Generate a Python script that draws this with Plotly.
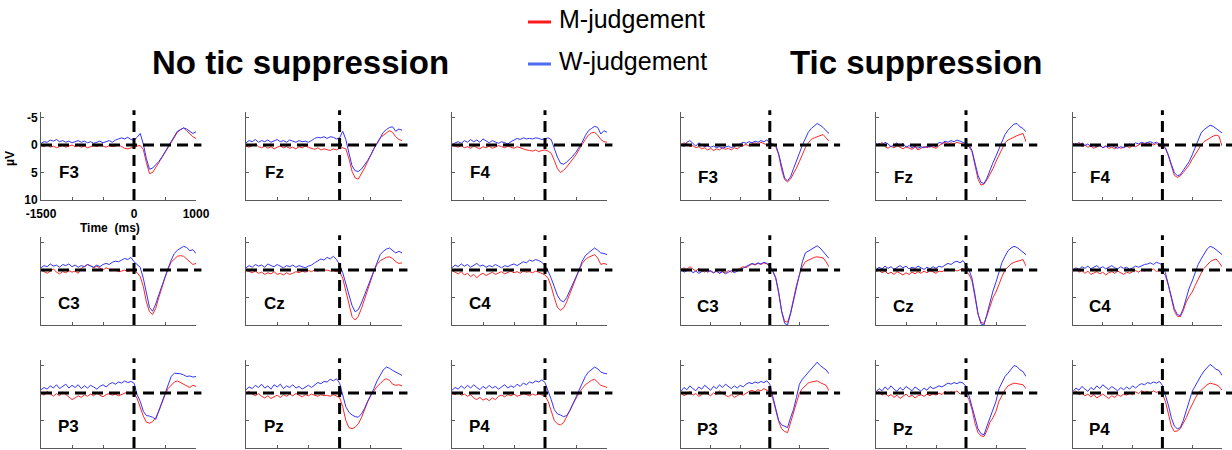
import plotly.graph_objects as go

# ---- data -------------------------------------------------------------
times = list(range(-1500, 1001, 50))  # ms, 51 samples
channels = ["F3", "Fz", "F4", "C3", "Cz", "C4", "P3", "Pz", "P4"]
tick_x = [-1500, -1000, -500, 0, 500, 1000]
tick_x_text = ["-1500", "", "", "0", "", "1000"]
tick_y = [-5, 0, 5, 10]
tick_y_text = ["-5", "0", "5", "10"]

# No tic suppression: M-judgement (m) and W-judgement (w), µV
free_F3_w = [-0.3,-0.6,-0.5,-0.9,-0.7,-1.0,-0.6,-0.8,-0.5,-0.7,-0.4,-0.6,-0.8,-0.5,-0.7,-0.4,-0.6,-0.3,-0.5,-0.7,-0.4,-0.6,-0.8,-0.5,-0.9,-1.1,
             -1.3,-1.1,-1.4,-1.0,-0.9, -1.4,-2.1,-0.2,2.5,4.4, 4.2,3.6,3.0,2.2,1.3, 0.4,-0.6,-1.6,-2.5,-2.8, -3.1,-2.9,-2.5,-2.1,-2.4]
free_F3_m = [0.1,0.3,0.0,0.4,0.2,0.5,0.3,0.1,0.4,0.2,0.0,0.3,0.1,0.4,0.2,0.5,0.3,0.1,0.3,0.0,0.2,0.4,0.1,0.3,0.2,0.0,
             0.3,0.6,0.7,0.5,0.4, 0.2,0.1,0.8,3.2,5.2, 5.0,4.0,3.2,2.3,1.4, 0.4,-0.5,-1.5,-2.3,-2.8, -3.1,-2.6,-2.0,-1.5,-1.2]
free_Fz_w = [-0.4,-0.8,-0.6,-1.0,-0.5,-0.8,-0.6,-0.9,-0.5,-0.8,-1.0,-0.6,-0.8,-0.5,-0.9,-0.7,-0.5,-0.8,-0.6,-0.7,-0.5,-0.8,-1.2,-1.4,-1.3,-1.5,
             -1.2,-1.5,-1.4,-1.1,-1.3, -2.5,-1.0,1.5,3.8,4.7, 4.8,4.4,3.7,2.8,1.8, 0.6,-0.2,-1.4,-2.3,-2.8, -3.2,-3.3,-2.5,-2.9,-2.7]
free_Fz_m = [0.2,0.4,0.1,-0.2,0.3,0.5,0.2,0.6,0.3,0.7,0.4,0.2,0.5,0.3,0.6,0.4,0.7,0.3,0.5,0.2,0.4,0.6,0.8,0.5,0.9,0.7,
             0.8,1.0,0.7,0.9,0.6, 0.5,0.7,2.5,4.8,6.0, 6.2,5.3,4.2,3.0,1.8, 0.6,-0.4,-1.3,-1.8,-2.2, -2.6,-2.3,-1.5,-1.0,-0.8]
free_F4_w = [0.0,-0.4,-0.6,-0.3,-0.8,-0.5,-1.0,-0.6,-0.9,-0.5,-1.1,-0.7,-0.4,-0.8,-0.5,-0.3,-0.6,-0.4,-0.2,-0.6,-0.9,-1.2,-1.0,-1.3,-1.1,-1.2,
             -1.1,-1.3,-1.2,-1.0,-1.1, -1.3,-1.0,0.5,2.2,3.3, 3.5,3.1,2.6,2.0,1.3, 0.5,-0.5,-1.7,-2.6,-3.0, -3.4,-3.2,-2.0,-2.6,-2.3]
free_F4_m = [0.0,0.2,0.4,0.1,0.5,0.3,0.6,0.2,0.4,0.7,0.3,0.5,0.2,0.6,0.4,0.1,0.3,0.5,0.2,0.4,0.6,0.3,0.5,0.8,0.9,1.0,
             1.1,0.9,1.2,1.0,0.9, 1.1,1.5,2.8,4.3,5.0, 4.6,4.0,3.3,2.5,1.8, 0.8,-0.2,-1.0,-1.8,-2.2, -2.3,-1.8,-1.0,-0.6,-0.5]
free_C3_w = [-0.4,-0.8,-0.6,-1.1,-0.7,-0.9,-0.5,-1.0,-0.8,-1.1,-0.6,-0.9,-0.5,-0.8,-0.6,-1.0,-0.7,-0.5,-0.9,-0.6,-1.0,-1.2,-1.0,-1.4,-1.6,-1.5,
             -1.8,-2.1,-1.9,-2.3,-1.5, -1.0,-0.5,1.5,4.5,6.8, 7.5,6.2,4.5,2.8,1.2, -0.3,-1.8,-3.0,-3.6,-4.0, -4.3,-4.1,-3.5,-3.7,-3.0]
free_C3_m = [0.0,0.3,0.6,0.2,-0.2,0.4,0.7,0.3,0.5,0.1,0.4,0.2,0.6,-0.3,-0.6,-1.0,-0.8,-0.4,-0.7,-0.3,0.0,-0.4,-0.2,0.1,0.0,0.3,
             0.2,0.0,0.3,0.1,0.2, 0.5,1.2,3.0,5.8,7.6, 8.1,7.0,5.0,3.0,1.4, -0.2,-1.4,-2.0,-2.5,-2.6, -2.5,-2.0,-1.5,-1.0,-1.2]
free_Cz_w = [-0.4,-0.8,-0.5,-1.0,-0.7,-0.9,-0.5,-1.1,-0.8,-0.6,-1.0,-0.7,-0.4,-0.8,-0.6,-0.9,-0.5,-0.8,-0.6,-0.4,-0.7,-0.9,-1.3,-1.6,-2.0,-1.8,
             -2.3,-2.0,-2.5,-1.9,-1.0, 0.5,2.5,4.5,6.5,7.6, 7.2,6.0,4.5,3.0,1.5, 0.0,-1.6,-2.8,-3.4,-3.8, -4.0,-3.6,-3.1,-3.4,-3.1]
free_Cz_m = [0.0,0.3,0.5,0.2,0.6,0.4,0.8,0.5,0.7,0.3,0.8,0.6,0.9,0.5,0.8,0.6,0.3,0.5,0.2,0.4,0.1,0.3,0.0,0.2,-0.1,0.1,
             0.0,0.2,0.1,0.3,0.3, 1.5,4.0,6.5,8.5,9.1, 8.4,7.0,5.3,3.5,1.8, 0.2,-1.0,-1.7,-2.0,-2.3, -2.4,-2.1,-1.5,-1.2,-1.3]
free_C4_w = [-0.4,-0.9,-0.6,-1.1,-0.7,-1.0,-0.5,-0.8,-1.2,-0.7,-0.9,-0.5,-0.8,-0.6,-1.0,-0.7,-0.4,-0.8,-0.6,-0.9,-1.1,-0.8,-1.2,-1.5,-1.3,-1.8,
             -1.6,-1.9,-1.7,-1.4,-0.8, 0.2,1.5,3.0,4.6,5.5, 5.8,5.0,3.8,2.5,1.2, 0.0,-1.6,-2.6,-3.1,-3.6, -4.0,-3.6,-3.1,-3.0,-2.8]
free_C4_m = [0.1,0.4,0.7,0.3,0.9,0.6,1.2,0.8,1.4,0.9,0.6,1.0,0.7,0.4,0.8,0.5,0.3,0.7,0.4,0.2,0.5,0.3,0.6,0.2,0.4,0.3,
             0.5,0.2,0.4,0.6,0.9, 1.5,3.0,5.0,6.8,7.3, 6.9,5.8,4.3,2.8,1.3, 0.0,-1.2,-1.9,-2.3,-2.6, -2.8,-2.2,-1.0,-1.2,-1.0]
free_P3_w = [-0.6,-1.0,-0.7,-1.3,-0.9,-1.5,-0.8,-1.2,-1.6,-0.9,-1.4,-1.0,-1.5,-0.8,-1.3,-0.9,-1.4,-1.1,-0.7,-1.2,-1.5,-1.1,-1.6,-1.9,-1.6,-2.0,
             -1.8,-2.2,-1.9,-2.1,-1.8, 0.3,1.5,3.3,4.1,4.2, 4.4,4.8,3.2,1.7,0.0, -1.8,-3.0,-3.6,-3.6,-3.5, -3.3,-3.0,-3.1,-2.9,-3.0]
free_P3_m = [0.0,0.4,-0.3,0.2,0.6,0.1,0.5,-0.2,0.3,0.8,1.2,0.9,0.5,0.8,0.3,0.6,0.2,0.5,0.0,0.4,0.7,0.3,0.1,0.4,0.2,0.5,
             0.3,0.0,-0.2,0.1,0.0, 1.0,2.5,4.2,5.3,5.5, 5.2,4.5,3.3,1.8,0.4, -0.8,-1.5,-2.0,-2.2,-1.9, -1.5,-1.2,-1.0,-1.4,-1.2]
free_Pz_w = [-0.6,-1.1,-0.8,-1.4,-1.0,-1.6,-0.9,-1.3,-0.7,-1.5,-1.1,-1.6,-0.8,-1.3,-1.0,-1.5,-0.9,-1.2,-0.7,-1.1,-1.4,-1.0,-1.5,-1.9,-1.7,-2.1,
             -2.0,-2.5,-2.2,-2.6,-1.8, 0.5,2.5,3.5,4.0,4.3, 4.4,3.8,2.8,1.5,0.4, -0.8,-2.2,-3.2,-4.2,-4.7, -4.5,-4.1,-3.8,-3.4,-3.2]
free_Pz_m = [0.0,-0.3,0.2,0.5,0.1,0.6,0.9,0.5,1.0,0.7,0.4,0.8,0.3,0.6,0.2,0.5,0.1,0.4,0.7,0.3,0.5,0.2,0.4,0.6,0.3,0.5,
             0.4,0.6,0.3,0.5,0.8, 2.5,5.0,6.3,6.5,6.2, 5.6,4.5,3.0,1.6,0.5, -0.4,-1.2,-1.7,-2.3,-2.6, -2.3,-1.6,-1.4,-1.5,-1.3]
free_P4_w = [-0.5,-1.0,-0.7,-1.3,-0.8,-1.4,-0.9,-1.5,-1.0,-0.6,-1.2,-0.8,-1.4,-0.9,-1.2,-0.7,-1.1,-1.5,-0.9,-1.3,-1.0,-1.6,-1.2,-1.8,-1.5,-2.0,
             -1.8,-2.2,-2.0,-2.4,-1.9, -0.5,1.2,3.0,3.8,4.0, 4.3,4.1,3.2,2.0,0.8, -0.5,-1.9,-3.0,-3.8,-4.3, -4.7,-4.4,-3.8,-3.6,-3.5]
free_P4_m = [0.0,0.3,-0.1,0.4,0.2,0.6,0.3,0.9,1.2,0.8,1.3,1.0,1.4,0.9,1.2,0.6,0.4,0.7,0.3,0.5,0.2,0.6,0.4,0.1,0.3,0.5,
             0.2,0.4,0.1,0.3,0.6, 1.5,3.5,5.0,5.6,5.8, 5.4,4.4,3.2,2.0,0.9, 0.0,-0.8,-1.5,-1.9,-2.3, -2.5,-2.0,-1.4,-1.2,-1.0]

# Tic suppression
supp_F3_w = [-0.2,0.3,-0.5,-0.8,-0.3,0.2,-0.4,0.0,0.3,0.1,0.4,0.2,0.5,0.3,0.6,0.4,0.2,0.5,0.3,0.1,-0.2,-0.5,-0.3,-0.6,-0.4,-0.7,
             -0.5,-0.8,-0.6,-0.9,-0.4, -0.2,0.0,1.6,4.0,6.0, 6.5,5.8,4.3,3.0,1.5, 0.0,-1.2,-2.3,-3.0,-3.5, -3.9,-3.6,-3.2,-2.6,-2.1]
supp_F3_m = [0.0,-0.4,-0.2,0.3,0.1,0.5,0.3,0.7,0.5,0.9,0.6,1.0,0.7,0.9,0.5,0.8,0.6,0.9,0.5,0.7,0.3,0.1,-0.1,0.2,-0.2,-0.4,
             -0.1,-0.5,-0.3,0.0,0.2, 0.0,0.3,1.8,4.5,6.3, 6.7,6.2,5.3,4.2,3.0, 1.7,0.5,-0.4,-1.0,-1.3, -1.5,-1.7,-1.9,-1.3,-0.7]
supp_Fz_w = [0.2,-0.3,0.1,-0.5,-0.2,0.3,0.0,-0.4,0.2,-0.3,0.4,0.1,0.5,0.2,0.6,0.3,0.5,0.2,0.4,0.0,0.3,-0.5,-0.3,-0.7,-0.5,-0.8,
             -0.6,-0.9,-0.7,-0.5,-0.3, 0.0,1.0,3.0,5.5,6.8, 7.0,6.0,4.4,3.2,2.0, 0.8,-0.5,-1.9,-2.7,-3.3, -3.8,-3.9,-3.3,-3.0,-2.4]
supp_Fz_m = [-0.3,0.2,-0.5,0.3,0.6,0.2,0.5,0.1,0.4,0.7,0.3,0.6,0.8,0.4,0.9,0.6,0.3,0.5,0.2,0.4,0.6,0.1,-0.2,-0.5,-0.1,-0.4,
             -0.2,-0.5,-0.3,-0.1,0.2, 0.3,1.2,3.5,6.2,7.3, 7.1,6.3,5.3,4.3,3.0, 1.8,0.6,-0.4,-0.9,-1.2, -1.5,-1.7,-1.9,-2.1,-0.6]
supp_F4_w = [0.0,-0.3,0.2,-0.4,0.1,-0.2,0.3,0.0,0.4,-0.1,0.5,0.2,0.3,0.0,0.4,0.6,0.3,0.5,0.2,-0.2,0.1,-0.4,-0.2,-0.5,-0.3,-0.4,
             -0.6,-0.3,-0.5,-0.2,0.0, 0.5,1.8,3.5,5.0,5.6, 5.4,4.6,3.8,3.0,1.8, 0.4,-1.0,-2.2,-2.8,-3.2, -3.6,-3.4,-3.0,-2.7,-2.2]
supp_F4_m = [-0.3,0.1,-0.5,0.3,0.0,0.4,0.2,0.6,0.3,0.1,0.5,0.2,0.6,0.4,0.7,0.3,0.6,0.4,0.2,0.5,0.1,0.3,0.0,-0.3,-0.1,-0.4,
             -0.2,0.0,-0.3,0.2,0.3, 0.6,2.0,4.0,5.5,5.9, 5.6,5.0,4.4,3.6,2.6, 1.7,0.8,0.0,-0.6,-1.0, -1.3,-1.6,-1.8,-1.6,0.2]
supp_C3_w = [-0.3,0.4,0.1,-0.2,0.5,0.2,0.6,0.3,0.0,0.4,0.1,0.5,0.2,0.6,0.3,0.7,0.4,0.1,0.5,0.2,-0.1,-0.4,-0.7,-1.0,-1.2,-1.0,
             -1.3,-1.1,-1.4,-1.2,-0.8, 0.2,1.4,4.0,7.5,9.7, 10.0,8.0,5.5,3.0,0.6, -1.5,-3.1,-3.4,-3.7,-4.0, -4.4,-4.0,-3.4,-2.8,-2.1]
supp_C3_m = [0.0,-0.4,-0.1,-0.6,-0.2,0.2,-0.3,0.1,0.4,0.0,0.3,0.5,0.2,0.6,0.3,0.5,0.1,0.4,0.2,0.0,-0.3,-0.6,-0.4,-0.8,-1.1,-0.9,
             -1.2,-1.0,-1.3,-1.1,-0.6, 0.2,1.5,4.2,7.5,9.3, 9.5,7.8,5.0,2.8,0.9, -0.6,-1.5,-1.8,-2.1,-2.3, -2.4,-2.3,-2.2,-1.5,-0.6]
supp_Cz_w = [0.0,-0.5,-0.2,-0.7,-0.3,-0.6,-0.1,-0.5,-0.8,-0.4,-0.7,-0.2,-0.5,-0.3,-0.7,-0.4,-0.1,-0.5,-0.2,-0.6,-0.3,-0.7,-0.5,-0.9,-1.2,-1.0,
             -1.4,-1.6,-1.3,-1.7,-1.0, 0.0,1.5,4.5,8.0,9.8, 10.0,8.0,5.8,3.8,2.2, 0.3,-1.4,-2.5,-3.5,-4.0, -4.3,-4.1,-3.7,-3.3,-2.8]
supp_Cz_m = [0.3,0.0,0.5,0.2,0.7,0.4,0.8,0.3,0.6,0.9,0.5,0.8,0.4,0.7,0.3,0.6,0.2,0.5,0.1,0.4,0.6,0.2,0.3,0.0,-0.2,0.1,
             -0.1,0.2,0.0,-0.3,0.3, 0.8,2.0,4.8,8.0,9.5, 9.7,8.3,6.5,5.0,4.0, 2.5,1.2,0.0,-0.6,-1.1, -1.4,-1.6,-1.8,-1.9,-0.7]
supp_C4_w = [0.0,-0.4,-0.1,-0.6,-0.3,-0.7,-0.2,-0.5,-0.8,-0.3,-0.6,-0.2,-0.5,-0.8,-0.4,-0.2,-0.6,-0.3,-0.5,-0.1,-0.4,-0.7,-0.5,-0.8,-1.0,-1.1,
             -1.3,-1.0,-1.4,-1.2,-0.9, 0.5,2.5,5.0,7.0,8.1, 8.3,7.0,5.0,3.3,2.0, 0.5,-1.0,-2.0,-3.0,-3.8, -4.3,-4.1,-3.7,-3.2,-2.8]
supp_C4_m = [0.2,-0.2,0.4,0.1,0.6,0.2,0.8,0.5,0.3,0.7,0.4,0.9,0.5,0.3,0.6,0.2,0.5,0.8,0.4,0.6,0.3,0.1,0.4,0.0,0.2,-0.1,
             0.1,-0.2,0.3,0.0,0.4, 1.0,2.8,5.3,7.5,8.4, 8.5,7.4,5.8,4.8,4.0, 2.8,1.6,0.6,-0.3,-1.0, -1.5,-1.8,-2.0,-1.4,-0.6]
supp_P3_w = [-0.3,-1.0,-0.6,-1.3,-0.8,-0.4,-1.1,-0.7,-1.4,-0.9,-0.5,-1.2,-0.8,-1.5,-1.0,-1.6,-1.2,-0.8,-1.3,-0.9,-1.4,-1.1,-1.6,-1.9,-1.7,-2.0,
             -1.8,-2.1,-1.9,-2.2,-1.6, 0.8,2.8,5.0,5.8,6.1, 6.3,4.5,3.0,0.8,-1.6, -2.5,-3.1,-3.6,-4.3,-5.0, -5.6,-5.0,-4.6,-4.2,-3.5]
supp_P3_m = [0.0,0.5,0.2,-0.3,0.4,0.1,0.6,0.3,-0.2,0.2,0.5,0.0,0.3,-0.4,0.1,0.4,0.7,0.3,0.8,0.5,0.2,0.4,0.0,-0.3,-0.5,-0.2,
             -0.6,-0.4,-0.8,-0.5,-0.2, 1.0,3.0,5.2,6.5,7.0, 7.2,5.5,3.7,1.8,0.0, -0.8,-1.4,-1.8,-2.0,-2.1, -2.2,-1.9,-1.7,-1.4,-0.4]
supp_Pz_w = [-0.2,-0.8,-0.4,-1.1,-0.6,-1.3,-0.7,-0.3,-1.0,-0.5,-1.2,-0.8,-0.4,-1.1,-0.7,-0.3,-0.9,-0.5,-1.2,-0.8,-1.0,-1.3,-1.1,-1.5,-1.8,-1.6,
             -1.9,-1.7,-2.0,-1.8,-1.2, 0.5,2.5,4.8,6.5,7.4, 7.6,6.0,4.4,3.2,1.5, -0.8,-2.0,-3.0,-3.6,-4.3, -5.0,-4.8,-4.2,-3.9,-3.0]
supp_Pz_m = [0.2,-0.3,0.4,0.0,0.6,0.3,0.8,0.4,1.0,0.6,0.2,0.7,0.4,0.9,0.5,0.3,0.6,0.2,0.5,0.1,0.4,0.0,0.3,-0.3,0.1,-0.2,
             0.0,-0.4,0.2,-0.1,0.3, 1.2,3.0,5.5,7.2,7.8, 7.9,6.8,5.3,4.5,3.3, 1.5,0.5,-0.6,-1.3,-1.6, -1.8,-1.7,-1.6,-1.5,-0.8]
supp_P4_w = [-0.3,-0.9,-0.5,-1.2,-0.7,-0.3,-1.0,-0.6,-1.3,-0.8,-1.5,-1.0,-0.6,-1.2,-0.8,-0.4,-1.0,-0.6,-1.1,-0.7,-1.3,-0.9,-1.4,-1.7,-1.5,-1.9,
             -1.7,-2.0,-1.8,-2.1,-1.4, 0.3,2.2,4.5,6.0,6.5, 6.3,5.0,3.4,1.5,-0.3, -1.3,-2.4,-3.2,-4.0,-4.7, -5.2,-4.8,-4.3,-4.1,-3.2]
supp_P4_m = [0.1,-0.4,0.3,0.0,0.5,0.2,0.7,0.3,0.9,0.5,0.2,0.6,1.0,0.5,0.8,0.3,0.6,0.2,0.4,0.0,0.3,-0.2,0.1,-0.4,-0.1,-0.3,
             0.0,-0.4,-0.1,-0.3,0.2, 1.5,3.8,6.0,7.0,6.9, 6.5,5.5,4.5,3.2,2.0, 1.0,0.0,-0.5,-1.0,-1.5, -1.8,-1.7,-1.5,-1.2,-0.5]

free_m = [free_F3_m, free_Fz_m, free_F4_m, free_C3_m, free_Cz_m, free_C4_m, free_P3_m, free_Pz_m, free_P4_m]
free_w = [free_F3_w, free_Fz_w, free_F4_w, free_C3_w, free_Cz_w, free_C4_w, free_P3_w, free_Pz_w, free_P4_w]
supp_m = [supp_F3_m, supp_Fz_m, supp_F4_m, supp_C3_m, supp_Cz_m, supp_C4_m, supp_P3_m, supp_Pz_m, supp_P4_m]
supp_w = [supp_F3_w, supp_Fz_w, supp_F4_w, supp_C3_w, supp_Cz_w, supp_C4_w, supp_P3_w, supp_Pz_w, supp_P4_w]

# ---- styling / geometry ----------------------------------------------
W, H = 1232, 450
FONT = "Liberation Sans, Arial, sans-serif"
RED, BLUE = "#ff2626", "#3333ff"
AXIS_COL = "#5a5a5a"
DASH = dict(color="black", width=3, dash="11px,6px")

groups = [
    dict(m=free_m, w=free_w,
         cols=[(41, 196), (246, 402), (452, 607)],
         label_y=[0.31, 0.24, 0.24], hext=1.035),
    dict(m=supp_m, w=supp_w,
         cols=[(681, 829), (876, 1026), (1073, 1222)],
         label_y=[0.26, 0.21, 0.21], hext=1.075),
]
rows = [(112, 200), (237, 325), (360, 448)]

fig = go.Figure()
layout = {}
shapes = []
annotations = []

n = 0
for g in groups:
    for k, ch in enumerate(channels):
        r, c = divmod(k, 3)
        n += 1
        sfx = "" if n == 1 else str(n)
        x0p, x1p = g["cols"][c]
        y0p, y1p = rows[r]
        first = (n == 1)
        layout["xaxis" + sfx] = dict(
            domain=[x0p / W, x1p / W], anchor="y" + sfx, range=[-1500, 1000],
            showline=True, linecolor=AXIS_COL, linewidth=1, mirror=False,
            ticks="inside", ticklen=3, tickcolor=AXIS_COL, tickwidth=1,
            tickvals=tick_x, ticktext=tick_x_text, showticklabels=first,
            ticklabelstandoff=3,
            tickfont=dict(family=FONT, size=12, color="black", weight="bold"),
            showgrid=False, zeroline=False, fixedrange=True, automargin=False,
        )
        layout["yaxis" + sfx] = dict(
            domain=[1 - y1p / H, 1 - y0p / H], anchor="x" + sfx, range=[10, -6],
            showline=True, linecolor=AXIS_COL, linewidth=1,
            ticks="inside", ticklen=3, tickcolor=AXIS_COL, tickwidth=1,
            tickvals=tick_y, ticktext=tick_y_text, showticklabels=first,
            tickfont=dict(family=FONT, size=12, color="black", weight="bold"),
            showgrid=False, zeroline=False, fixedrange=True, automargin=False,
        )
        fig.add_trace(go.Scatter(x=times, y=g["m"][k], mode="lines",
                                 line=dict(color=RED, width=1),
                                 xaxis="x" + sfx, yaxis="y" + sfx,
                                 showlegend=False, name="M-judgement"))
        fig.add_trace(go.Scatter(x=times, y=g["w"][k], mode="lines",
                                 line=dict(color=BLUE, width=1),
                                 xaxis="x" + sfx, yaxis="y" + sfx,
                                 showlegend=False, name="W-judgement"))
        xr = "x" if n == 1 else "x" + sfx
        yr = "y" if n == 1 else "y" + sfx
        # zero baseline and stimulus onset
        shapes.append(dict(type="line", xref=xr + " domain", x0=0, x1=g["hext"],
                           yref=yr, y0=0, y1=0, line=DASH))
        shapes.append(dict(type="line", xref=xr, x0=0, x1=0,
                           yref=yr + " domain", y0=0, y1=1.02, line=DASH))
        annotations.append(dict(text=ch, xref=xr + " domain", yref=yr + " domain",
                                x=0.18, y=g["label_y"][r], showarrow=False,
                                xanchor="center", yanchor="middle",
                                font=dict(family=FONT, size=17, color="black", weight="bold")))

# axis captions on the first panel
annotations.append(dict(text="µV", xref="paper", yref="paper", x=10 / W, y=1 - 158 / H,
                        textangle=-90, showarrow=False, xanchor="center", yanchor="middle",
                        font=dict(family=FONT, size=12, color="black", weight="bold")))
annotations.append(dict(text="Time  (ms)", xref="paper", yref="paper", x=110 / W, y=1 - 228 / H,
                        showarrow=False, xanchor="center", yanchor="middle",
                        font=dict(family=FONT, size=12, color="black", weight="bold")))

# group titles
annotations.append(dict(text="No tic suppression", xref="paper", yref="paper",
                        x=300 / W, y=1 - 62 / H, showarrow=False,
                        xanchor="center", yanchor="middle",
                        font=dict(family=FONT, size=33, color="black", weight="bold")))
annotations.append(dict(text="Tic suppression", xref="paper", yref="paper",
                        x=916 / W, y=1 - 62 / H, showarrow=False,
                        xanchor="center", yanchor="middle",
                        font=dict(family=FONT, size=33, color="black", weight="bold")))

# legend
legend_items = [("M-judgement", "#ff1a1a", 23), ("W-judgement", "#4b6cf0", 65)]
for label, col, yc in legend_items:
    shapes.append(dict(type="line", xref="paper", yref="paper",
                       x0=528 / W, x1=551 / W, y0=1 - (yc - 1) / H, y1=1 - (yc - 1) / H,
                       line=dict(color=col, width=3)))
    annotations.append(dict(text=label, xref="paper", yref="paper",
                            x=557 / W, y=1 - (yc - 4) / H, xanchor="left", yanchor="middle",
                            showarrow=False,
                            font=dict(family=FONT, size=25, color="black")))

fig.update_layout(
    width=W, height=H, margin=dict(l=0, r=0, t=0, b=0, autoexpand=False),
    paper_bgcolor="white", plot_bgcolor="white",
    shapes=shapes, annotations=annotations, showlegend=False,
    **layout,
)

fig.write_html("out.html")
